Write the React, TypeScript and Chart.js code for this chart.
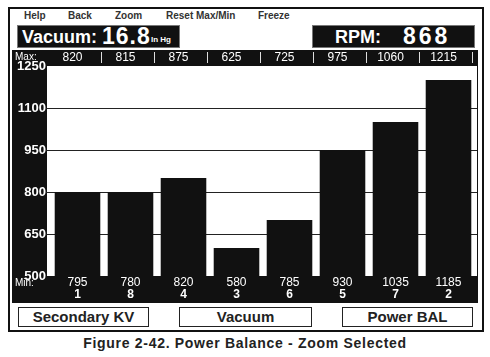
import React, { useEffect, useRef } from "react";
import { Chart, registerables } from "chart.js";

Chart.register(...registerables);

const cylinders = ["1", "8", "4", "3", "6", "5", "7", "2"];
const powerValues = [800, 800, 850, 600, 700, 950, 1050, 1200];
const maxValues = ["820", "815", "875", "625", "725", "975", "1060", "1215"];
const minValues = ["795", "780", "820", "580", "785", "930", "1035", "1185"];
const yTicks = [500, 650, 800, 950, 1100, 1250];
const menuItems = ["Help", "Back", "Zoom", "Reset Max/Min", "Freeze"];
const buttonLabels = ["Secondary KV", "Vacuum", "Power BAL"];
const vacuumValue = "16.8";
const rpmValue = "868";
const caption = "Figure 2-42. Power Balance - Zoom Selected";

const FONT = "'Liberation Sans', Arial, Helvetica, sans-serif";

const panelPlugin = {
  id: "panel",
  beforeDraw(chart: any) {
    const { ctx, width, height, chartArea, scales } = chart;
    const y = scales.y;
    ctx.save();
    ctx.fillStyle = "#111";
    ctx.fillRect(0, 0, width, height);
    const top = y.getPixelForValue(yTicks[yTicks.length - 1]);
    const bottom = y.getPixelForValue(yTicks[0]);
    ctx.fillStyle = "#fff";
    ctx.fillRect(chartArea.left - 4, top, chartArea.right - chartArea.left + 6, bottom - top);
    ctx.strokeStyle = "#222";
    ctx.lineWidth = 1;
    for (let i = 1; i < yTicks.length - 1; i++) {
      const py = Math.round(y.getPixelForValue(yTicks[i])) + 0.5;
      ctx.beginPath();
      ctx.moveTo(chartArea.left - 6, py);
      ctx.lineTo(chartArea.right + 2, py);
      ctx.stroke();
    }
    ctx.restore();
  },
  afterDraw(chart: any) {
    const { ctx, scales } = chart;
    const x = scales.x;
    const step = x.getPixelForValue(1) - x.getPixelForValue(0);
    ctx.save();
    ctx.fillStyle = "#fff";
    ctx.textBaseline = "middle";
    ctx.textAlign = "left";
    ctx.font = `10px ${FONT}`;
    ctx.fillText("Max:", 3, 7);
    ctx.fillText("Min:", 3, 233);
    ctx.strokeStyle = "#ddd";
    ctx.lineWidth = 1;
    for (let i = 0; i < cylinders.length; i++) {
      const cx = x.getPixelForValue(i);
      ctx.textAlign = "center";
      ctx.font = `12px ${FONT}`;
      ctx.fillText(maxValues[i], cx - 5, 8);
      ctx.fillText(minValues[i], cx, 233);
      ctx.font = `bold 12px ${FONT}`;
      ctx.fillText(cylinders[i], cx, 245);
      const sx = Math.round(cx + step / 2 - 3) + 0.5;
      ctx.beginPath();
      ctx.moveTo(sx, 2);
      ctx.lineTo(sx, 13);
      ctx.stroke();
    }
    ctx.restore();
  },
};

function PowerChart() {
  const ref = useRef<HTMLCanvasElement | null>(null);
  useEffect(() => {
    if (!ref.current) return;
    const chart = new Chart(ref.current, {
      type: "bar",
      data: {
        labels: cylinders,
        datasets: [
          {
            data: powerValues,
            backgroundColor: "#111",
            borderWidth: 0,
            barPercentage: 0.86,
            categoryPercentage: 1,
          },
        ],
      },
      options: {
        responsive: false,
        animation: false,
        devicePixelRatio: 1,
        layout: { padding: { top: 16, bottom: 27, right: 3, left: 0 } },
        plugins: { legend: { display: false }, tooltip: { enabled: false } },
        scales: {
          x: { display: false },
          y: {
            min: 500,
            max: 1250,
            afterFit: (axis: any) => {
              axis.width = 39;
            },
            afterBuildTicks: (axis: any) => {
              axis.ticks = yTicks.map((v) => ({ value: v }));
            },
            grid: { display: false, drawTicks: false },
            border: { display: false },
            ticks: {
              color: "#fff",
              padding: 5,
              callback: (v: any) => String(v),
              font: { family: FONT, size: 13, weight: "bold" },
            },
          },
        },
      },
      plugins: [panelPlugin],
    } as any);
    return () => chart.destroy();
  }, []);
  return (
    <canvas
      ref={ref}
      width={466}
      height={253}
      style={{ position: "absolute", left: 12, top: 50, width: 466, height: 253 }}
    />
  );
}

const menuX = [24, 68, 115, 166, 258];
const buttonBoxes = [
  { left: 18, width: 131 },
  { left: 179, width: 133 },
  { left: 342, width: 131 },
];

export default function App() {
  return (
    <div
      style={{
        position: "absolute",
        left: 0,
        top: 0,
        width: 490,
        height: 357,
        background: "#fff",
        overflow: "hidden",
        fontFamily: FONT,
      }}
    >
      <div
        style={{
          position: "absolute",
          left: 8,
          top: 7,
          width: 476,
          height: 325,
          boxSizing: "border-box",
          border: "2px solid #111",
        }}
      />
      {menuItems.map((m, i) => (
        <div
          key={m}
          style={{
            position: "absolute",
            left: menuX[i],
            top: 9,
            fontSize: 10,
            fontWeight: "bold",
            color: "#333",
            lineHeight: "13px",
            whiteSpace: "nowrap",
          }}
        >
          {m}
        </div>
      ))}
      <div
        style={{
          position: "absolute",
          left: 17,
          top: 25,
          width: 163,
          height: 23,
          boxSizing: "border-box",
          background: "#111",
          border: "1px solid #777",
          color: "#fff",
          whiteSpace: "nowrap",
        }}
      >
        <span style={{ position: "absolute", left: 4, top: 1, fontSize: 18, fontWeight: "bold", lineHeight: "21px" }}>
          Vacuum:
        </span>
        <span
          style={{ position: "absolute", left: 84, top: -2, fontSize: 23, fontWeight: "bold", lineHeight: "25px", letterSpacing: 1 }}
        >
          {vacuumValue}
        </span>
        <span style={{ position: "absolute", left: 133, top: 8, fontSize: 8, fontWeight: "bold", lineHeight: "12px" }}>
          In Hg
        </span>
      </div>
      <div
        style={{
          position: "absolute",
          left: 312,
          top: 25,
          width: 163,
          height: 23,
          boxSizing: "border-box",
          background: "#111",
          border: "1px solid #777",
          color: "#fff",
          whiteSpace: "nowrap",
        }}
      >
        <span style={{ position: "absolute", left: 22, top: 1, fontSize: 18, fontWeight: "bold", lineHeight: "21px" }}>
          RPM:
        </span>
        <span
          style={{ position: "absolute", left: 90, top: -2, fontSize: 23, fontWeight: "bold", lineHeight: "25px", letterSpacing: 3 }}
        >
          {rpmValue}
        </span>
      </div>
      <PowerChart />
      {buttonLabels.map((b, i) => (
        <div
          key={b}
          style={{
            position: "absolute",
            left: buttonBoxes[i].left,
            top: 307,
            width: buttonBoxes[i].width,
            height: 20,
            boxSizing: "border-box",
            border: "1px solid #222",
            background: "#fff",
            color: "#222",
            fontSize: 15,
            fontWeight: "bold",
            textAlign: "center",
            lineHeight: "18px",
            whiteSpace: "nowrap",
          }}
        >
          {b}
        </div>
      ))}
      <div
        style={{
          position: "absolute",
          left: 0,
          top: 335,
          width: 490,
          textAlign: "center",
          fontSize: 14,
          fontWeight: "bold",
          letterSpacing: 0.7,
          color: "#222",
          lineHeight: "16px",
          whiteSpace: "nowrap",
        }}
      >
        {caption}
      </div>
    </div>
  );
}
